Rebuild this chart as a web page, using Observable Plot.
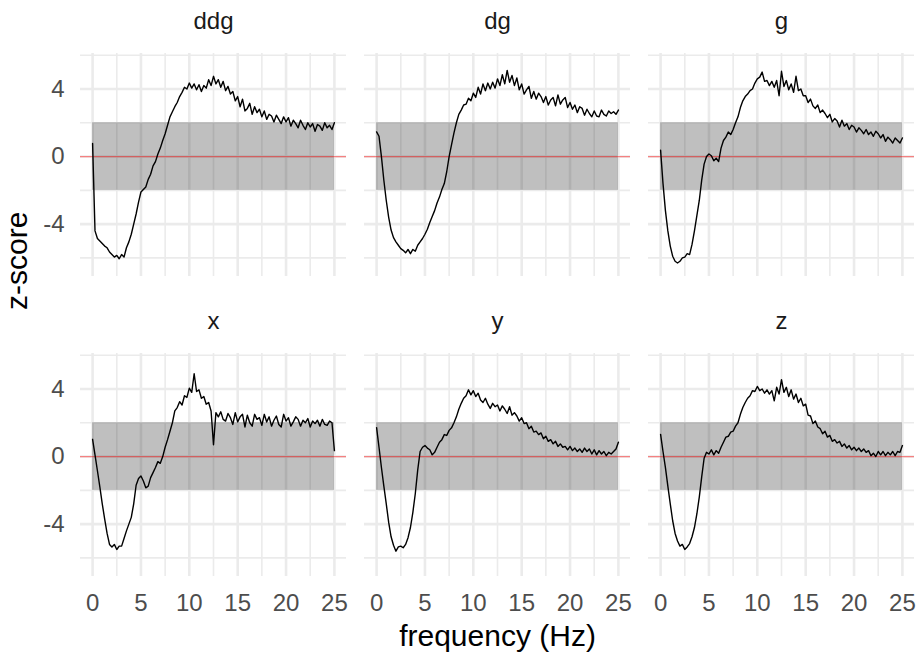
<!DOCTYPE html>
<html>
<head>
<meta charset="utf-8">
<script src="https://cdn.jsdelivr.net/npm/d3@7"></script>
<script src="https://cdn.jsdelivr.net/npm/@observablehq/plot@0.6"></script>
<style>
  html, body { margin: 0; padding: 0; background: #fff; }
</style>
</head>
<body>
<div id="chart"></div>
<script>
// Panel names (facet strips), in reading order
const panels = ["ddg", "dg", "g", "x", "y", "z"];

// Frequency grid (Hz), 0 to 25 in steps of 0.25
const freq = d3.range(0, 25.001, 0.25);

// z-score values, one array per panel
const zDdg = [
  0.77, -4.4, -4.85, -5.0, -5.15, -5.3, -5.4, -5.65, -5.8, -5.95,
  -5.85, -6.05, -5.8, -5.95, -5.4, -5.05, -4.6, -4.0, -3.4, -2.7,
  -2.1, -1.95, -1.8, -1.35, -1.05, -0.55, -0.3, 0.15, 0.5, 0.95,
  1.35, 1.85, 2.35, 2.65, 2.95, 3.2, 3.55, 3.8, 4.1, 4.0,
  4.35, 4.05, 4.3, 3.95, 4.25, 3.85, 4.2, 4.05, 4.55, 4.2,
  4.75, 4.3, 4.55, 4.1, 4.45, 3.9, 4.15, 3.7, 3.85, 3.3,
  3.55, 2.95, 3.4, 2.7, 2.85, 3.15, 2.5, 2.95, 2.6, 2.8,
  2.35, 2.7, 2.2, 2.5, 2.4, 2.05, 2.45, 2.2, 1.95, 2.35,
  2.05, 2.3, 1.8, 2.15, 1.95, 1.7, 2.15, 1.85, 1.6, 2.0,
  1.75, 1.95, 1.5, 1.9, 1.8, 1.55, 2.0, 1.7, 1.85, 1.6,
  2.0
];
const zDg = [
  1.46, 1.2, 0.0, -1.4, -2.6, -3.6, -4.35, -4.8, -5.05, -5.25,
  -5.45, -5.55, -5.7, -5.5, -5.75, -5.5, -5.6, -5.25, -5.05, -4.85,
  -4.6, -4.3, -3.9, -3.55, -3.2, -2.75, -2.4, -1.95, -1.6, -0.9,
  0.0, 0.7, 1.4, 2.0, 2.5, 2.75, 3.05, 3.1, 3.45, 3.3,
  3.75, 3.5, 4.1, 3.7, 4.3, 3.9, 4.35, 4.0, 4.4, 4.05,
  4.6, 4.2, 4.85, 4.3, 5.1, 4.4, 4.8, 4.2, 4.65, 3.95,
  4.3, 3.7, 3.95, 4.15, 3.45, 3.85, 3.4, 3.75, 3.55, 3.2,
  3.55, 3.05, 3.35, 3.5, 3.0, 3.65, 3.1, 3.35, 3.5, 2.9,
  3.2, 2.8, 3.05, 2.6, 2.95, 2.85, 2.45, 2.8, 2.55, 2.35,
  2.7, 2.4, 2.35, 2.75, 2.5, 2.4, 2.7, 2.55, 2.65, 2.5,
  2.75
];
const zG = [
  0.37, -1.6, -3.2, -4.4, -5.3, -5.9, -6.2, -6.3, -6.2, -6.0,
  -5.95, -5.75, -5.8, -5.2, -4.4, -3.5, -2.6, -1.4, -0.45, 0.0,
  0.15, 0.05, -0.25, -0.1, -0.3, 0.5, 0.95, 1.15, 1.45, 1.3,
  1.6, 2.0, 2.35, 2.9, 3.3, 3.55, 3.7, 3.9, 4.0, 4.35,
  4.6, 4.7, 5.0, 4.45, 4.5, 4.2, 4.45, 4.1, 4.5, 3.6,
  5.05, 4.15, 4.5, 3.95, 4.3, 3.8, 4.75, 3.9, 4.0, 3.6,
  3.6, 3.2, 3.4, 3.0, 2.85, 3.05, 2.6, 2.75, 2.55, 2.3,
  2.5, 2.05, 2.25, 2.1, 1.75, 2.15, 1.8, 1.95, 1.6, 1.85,
  1.75, 1.45, 1.7, 1.55, 1.35, 1.6, 1.3, 1.45, 1.2, 1.5,
  1.35, 1.1, 1.3, 0.9, 1.15, 1.0, 0.8, 1.1, 0.95, 0.8,
  1.1
];
const zX = [
  1.02, 0.1, -0.84, -1.8, -2.8, -3.7, -4.55, -5.2, -5.35, -5.2,
  -5.5, -5.3, -5.3, -4.85, -4.4, -4.0, -3.6, -2.8, -1.7, -1.3,
  -1.15, -1.45, -1.85, -1.75, -1.25, -0.95, -0.65, -0.3, -0.4, 0.0,
  0.55, 1.0, 1.5, 2.0, 2.7, 2.9, 3.25, 3.05, 3.6, 3.5,
  4.05, 3.8, 4.9, 3.85, 3.95, 3.45, 3.55, 3.1, 3.2, 2.7,
  0.7, 2.6, 2.35, 2.65, 2.2, 2.1, 2.55, 2.3, 1.9, 2.6,
  2.05, 2.35, 2.5, 1.75, 2.45, 2.0, 1.8, 2.5, 2.2, 2.3,
  1.85, 2.5, 2.05, 2.35, 1.8, 2.15, 2.4, 1.9, 1.75, 2.5,
  2.1, 2.3, 1.8, 2.05, 2.35, 2.2, 1.8, 2.15, 2.0, 2.25,
  1.75, 2.1, 1.95, 2.15, 1.8, 2.2, 1.9, 1.85, 2.1, 2.0,
  0.35
];
const zY = [
  1.71, 0.55, -0.65, -1.75, -2.8, -3.9, -4.75, -5.25, -5.6, -5.35,
  -5.3, -5.4, -5.2, -4.8, -4.2, -3.3, -2.2, -0.8, 0.3, 0.55,
  0.65, 0.5, 0.4, 0.1, 0.25, 0.55, 0.85, 1.0, 1.3, 1.25,
  1.55, 1.7, 2.0, 2.35, 2.8, 3.15, 3.45, 3.6, 3.95, 3.65,
  3.9, 3.55, 3.75, 3.35, 3.2, 3.45, 3.1, 2.85, 3.15, 2.95,
  3.05, 2.7, 3.0, 2.8, 2.55, 2.95, 2.45, 2.6, 2.4, 2.1,
  2.3, 1.95, 2.0, 1.65, 1.8, 1.45, 1.5, 1.3, 1.4, 1.05,
  1.2, 0.9, 1.0, 0.75, 0.9, 0.6, 0.75, 0.55, 0.6, 0.4,
  0.6, 0.35, 0.5, 0.3, 0.45, 0.25, 0.5, 0.3, 0.45, 0.15,
  0.4, 0.1, 0.35, 0.15, 0.3, 0.05, 0.25, 0.15, 0.3, 0.45,
  0.85
];
const zZ = [
  1.31, 0.3, -0.65, -1.75, -2.8, -3.8, -4.55, -5.0, -5.3, -5.2,
  -5.5, -5.35, -5.15, -4.75, -4.2, -3.4, -2.4, -1.2, -0.1, 0.25,
  0.15, 0.4, 0.1, 0.35, 0.2, 0.55, 0.85, 1.15, 1.2, 1.45,
  1.5, 1.8, 2.0, 2.5, 2.9, 3.2, 3.45, 3.6, 3.9, 3.85,
  4.15, 3.9, 4.0, 3.75, 3.95, 3.7, 3.9, 3.3, 4.1, 3.7,
  4.55, 3.8, 4.1, 3.55, 3.95, 3.4, 3.7, 3.2, 3.45, 3.0,
  3.1, 2.45, 2.4, 1.95, 2.1, 1.75, 1.65, 1.35, 1.5, 1.15,
  1.25, 0.9, 1.0, 0.8, 0.9, 0.6, 0.75, 0.5, 0.65, 0.4,
  0.55, 0.35, 0.5, 0.3, 0.45, 0.25, 0.35, 0.05, 0.2, 0.0,
  0.3, 0.1, 0.3, 0.05, 0.25, 0.1, 0.3, 0.05, 0.3, 0.25,
  0.65
];

// Axis ticks and gridlines
const xTicks = [0, 5, 10, 15, 20, 25];
const xMinor = [2.5, 7.5, 12.5, 17.5, 22.5];
const yTicks = [-4, 0, 4];
const yMinor = [-6, -2, 2, 6];

// Shaded band |z| < 2 over the frequency span, and reference line at 0
const band = [{x1: 0, x2: 25, y1: -2, y2: 2}];
const refLine = [0];

const seriesList = [zDdg, zDg, zG, zX, zY, zZ];
const rows = panels.flatMap((name, i) =>
  seriesList[i].map((v, j) => ({panel: name, col: i % 3, row: Math.floor(i / 3), f: freq[j], z: v}))
);
const strips = panels.map((name, i) => ({panel: name, col: i % 3, row: Math.floor(i / 3)}));

const gridColor = "#ebebeb";
const plain = d => String(d);

const chart = Plot.plot({
  width: 922,
  height: 655,
  marginLeft: 79,
  marginRight: 7,
  marginTop: 53,
  marginBottom: 79,
  style: {fontFamily: "'Liberation Sans', Arial, Helvetica, sans-serif", background: "#fff", overflow: "visible"},
  x: {domain: [-1.25, 26.25]},
  y: {domain: [-7.1, 6.1]},
  fx: {domain: [0, 1, 2], paddingInner: 0.064, paddingOuter: 0, axis: null},
  fy: {domain: [0, 1], paddingInner: 0.257, paddingOuter: 0, axis: null},
  marks: [
    Plot.ruleX(xMinor, {stroke: gridColor, strokeWidth: 1.6}),
    Plot.ruleY(yMinor, {stroke: gridColor, strokeWidth: 1.6}),
    Plot.ruleX(xTicks, {stroke: gridColor, strokeWidth: 2.6}),
    Plot.ruleY(yTicks, {stroke: gridColor, strokeWidth: 2.6}),
    Plot.rect(band, {x1: "x1", x2: "x2", y1: "y1", y2: "y2", fill: "#000", fillOpacity: 0.25}),
    Plot.ruleY(refLine, {stroke: "#ff0000", strokeOpacity: 0.45, strokeWidth: 1.3}),
    Plot.line(rows, {x: "f", y: "z", z: "panel", fx: "col", fy: "row", stroke: "#000", strokeWidth: 1.4}),
    Plot.text(strips, {fx: "col", fy: "row", text: "panel", frameAnchor: "top", lineAnchor: "bottom", dy: -25, fontSize: 24, fill: "#1a1a1a"}),
    Plot.axisX(xTicks, {tickSize: 0, tickPadding: 17, fontSize: 24, color: "#4d4d4d", label: null, tickFormat: plain}),
    Plot.axisY(yTicks, {tickSize: 0, tickPadding: 16, fontSize: 24, color: "#4d4d4d", label: null, tickFormat: plain}),
    Plot.text(["frequency (Hz)"], {facet: "super", frameAnchor: "bottom", lineAnchor: "bottom", dy: 69, fontSize: 30, fill: "#000"}),
    Plot.text(["z-score"], {facet: "super", frameAnchor: "left", lineAnchor: "bottom", rotate: -90, dx: -54, dy: -5, fontSize: 30, fill: "#000"})
  ]
});
document.getElementById("chart").appendChild(chart);
</script>
</body>
</html>
